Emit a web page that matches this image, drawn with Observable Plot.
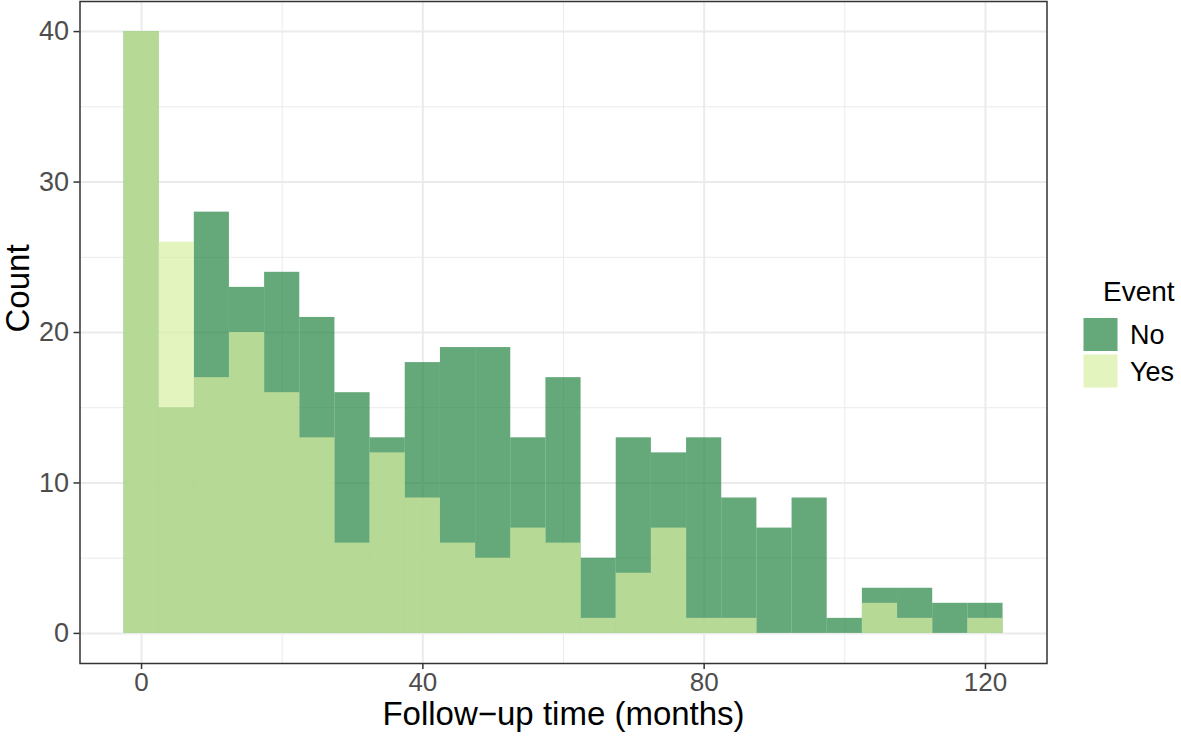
<!DOCTYPE html>
<html>
<head>
<meta charset="utf-8">
<script src="https://cdn.jsdelivr.net/npm/d3@7"></script>
<script src="https://cdn.jsdelivr.net/npm/@observablehq/plot@0.6"></script>
<style>
  html, body { margin: 0; padding: 0; background: white; }
  #chart { position: relative; width: 1181px; height: 737px; }
</style>
</head>
<body>
<div id="chart"></div>
<script>
// Bin centers (months), bin width 5
const binCenters = [0, 5, 10, 15, 20, 25, 30, 35, 40, 45, 50, 55, 60, 65, 70, 75, 80, 85, 90, 95, 100, 105, 110, 115, 120];
// Counts for Event = No
const noCounts  = [40, 15, 28, 23, 24, 21, 16, 13, 18, 19, 19, 13, 17, 5, 13, 12, 13, 9, 7, 9, 1, 3, 3, 2, 2];
// Counts for Event = Yes
const yesCounts = [40, 26, 17, 20, 16, 13, 6, 12, 9, 6, 5, 7, 6, 1, 4, 7, 1, 1, 0, 0, 0, 2, 1, 0, 1];
const binWidth = 5;

const eventLevels = ["No", "Yes"];
const eventColors = ["#238443", "#d9f0a3"];

const xMajor = [0, 40, 80, 120];
const xMinor = [20, 60, 100];
const yMajor = [0, 10, 20, 30, 40];
const yMinor = [5, 15, 25, 35];

const xTitle = "Follow\u2212up time (months)";
const yTitle = "Count";
const legendTitle = "Event";

const toRows = (counts, event) => binCenters.map((c, i) => ({
  x1: c - binWidth / 2, x2: c + binWidth / 2, count: counts[i], event
}));
const noRows = toRows(noCounts, "No");
const yesRows = toRows(yesCounts, "Yes");

const font = "'Liberation Sans', Arial, Helvetica, sans-serif";

const plot = Plot.plot({
  width: 1181,
  height: 737,
  marginLeft: 79.5,
  marginRight: 134.5,
  marginTop: 1,
  marginBottom: 74,
  x: { domain: [-8.75, 128.75] },
  y: { domain: [-2, 42] },
  color: { domain: eventLevels, range: eventColors },
  style: { fontFamily: font, background: "white", overflow: "visible" },
  marks: [
    Plot.ruleX(xMinor, { stroke: "#EBEBEB", strokeWidth: 1 }),
    Plot.ruleY(yMinor, { stroke: "#EBEBEB", strokeWidth: 1 }),
    Plot.ruleX(xMajor, { stroke: "#EBEBEB", strokeWidth: 2 }),
    Plot.ruleY(yMajor, { stroke: "#EBEBEB", strokeWidth: 2 }),
    Plot.rectY(noRows, { x1: "x1", x2: "x2", y1: 0, y2: "count", fill: "event", fillOpacity: 0.7 }),
    Plot.rectY(yesRows, { x1: "x1", x2: "x2", y1: 0, y2: "count", fill: "event", fillOpacity: 0.7 }),
    Plot.frame({ stroke: "#333333", strokeWidth: 1.5 }),
    Plot.axisX({ ticks: xMajor, tickSize: 6, tickPadding: 3, fontSize: 26, stroke: "#333333", strokeWidth: 1.5, fill: "#4D4D4D", label: null }),
    Plot.axisY({ ticks: yMajor, tickSize: 6, tickPadding: 5, fontSize: 27, stroke: "#333333", strokeWidth: 1.5, fill: "#4D4D4D", label: null }),
    Plot.text([xTitle], { frameAnchor: "bottom", dy: 61, fontSize: 33, fill: "black" }),
    Plot.text([yTitle], { frameAnchor: "left", dx: -62, rotate: -90, fontSize: 33, fill: "black" })
  ]
});
document.getElementById("chart").appendChild(plot);

// Legend drawn into the same SVG
const svg = d3.select(plot);
const lg = svg.append("g").attr("font-family", font).attr("text-anchor", "start");
lg.append("text").attr("x", 1103).attr("y", 301).attr("font-size", 28).attr("fill", "black").text(legendTitle);
eventLevels.forEach((lev, i) => {
  const y0 = 318 + i * 36.5;
  lg.append("rect").attr("x", 1083.5).attr("y", y0).attr("width", 34).attr("height", 33)
    .attr("fill", eventColors[i]).attr("fill-opacity", 0.7);
  lg.append("text").attr("x", 1130).attr("y", y0 + 26).attr("font-size", 27).attr("fill", "black").text(lev);
});
</script>
</body>
</html>
